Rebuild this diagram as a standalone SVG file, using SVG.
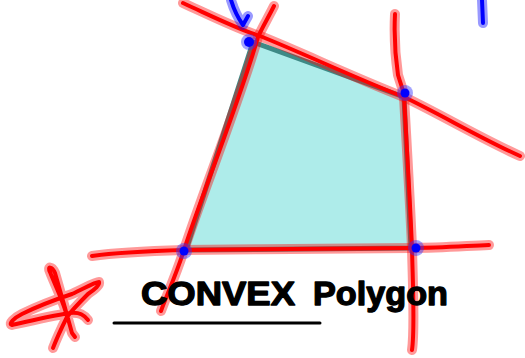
<svg xmlns="http://www.w3.org/2000/svg" width="525" height="358" viewBox="0 0 525 358">
<style>
.halo{fill:none;stroke-linecap:round;stroke-linejoin:round;stroke-width:10;stroke-opacity:0.4}
.core{fill:none;stroke-linecap:round;stroke-linejoin:round;stroke-width:4}
.red{stroke:#ff0000}
.blue{stroke:#0000ff}
.dot{fill:#0000ff}
.doth{fill:#3333ff;fill-opacity:0.45}
.title{font-family:"Liberation Sans",Arial,sans-serif;font-weight:bold;font-size:33px;fill:#000;stroke:#000;stroke-width:1.3;stroke-linejoin:round}
</style>
<defs>
<path id="l1" d="M183,3 C220,20 240,30 260,36 C300,52 360,80 404,97 C440,114 480,138 520,156"/>
<path id="l2" d="M274,6 C268,18 262,28 258,37 C240,100 200,200 184,250 C176,275 168,292 161,311"/>
<path id="l3" d="M395,14 C394,35 395,55 398,75 C402,88 404,92 404,97 C407,150 410,200 412,248 C413,290 415,330 412,350"/>
<path id="l4" d="M92,256 C120,252 150,251 184,250 C260,249 340,249 412,248 C440,248 465,246 489,245"/>
<path id="star" d="M53,348 C58,335 63,325 67,317 C65,305 55,285 50,272 C47,266 52,266 55,273 C60,290 67,315 72,333 L75,337 M88,320 C84,315 80,312 70,313 C50,316 25,322 12,325 C8,324 14,318 22,314 C40,305 60,298 72,294 C85,288 95,282 99,282 C100,285 95,289 88,294 C80,302 72,310 67,317"/>
<path id="b1" d="M231,0 C234,10 238,18 243,25 L248,16"/>
<path id="b2" d="M482,0 L483,23"/>
</defs>
<g id="polygon">
<polygon points="253,42 404,97 411,248 186,250" fill="#aeecea" stroke="#3e8a86" stroke-width="5" stroke-linejoin="round"/>
</g>
<g id="connectors">
<use href="#l1" class="halo red"/><use href="#l1" class="core red"/>
<use href="#l2" class="halo red"/><use href="#l2" class="core red"/>
<use href="#l3" class="halo red"/><use href="#l3" class="core red"/>
<use href="#l4" class="halo red"/><use href="#l4" class="core red"/>
</g>
<g id="vertices">
<circle cx="249" cy="42" r="8" class="doth"/><circle cx="249" cy="42" r="5" class="dot"/>
<circle cx="405" cy="93" r="8" class="doth"/><circle cx="405" cy="93" r="4.5" class="dot"/>
<circle cx="184" cy="251" r="8" class="doth"/><circle cx="184" cy="251" r="4.5" class="dot"/>
<circle cx="416" cy="248" r="8" class="doth"/><circle cx="416" cy="248" r="4.5" class="dot"/>
</g>
<g id="blue-marks">
<use href="#b1" class="halo blue"/><use href="#b1" class="core blue"/>
<use href="#b2" class="halo blue"/><use href="#b2" class="core blue"/>
</g>
<g id="scribble">
<use href="#star" class="halo red"/><use href="#star" class="core red"/>
</g>
<g id="label">
<text class="title" y="305"><tspan x="141" textLength="154" lengthAdjust="spacingAndGlyphs">CONVEX</tspan><tspan x="313" textLength="135" lengthAdjust="spacingAndGlyphs">Polygon</tspan></text>
<line x1="114" y1="323" x2="320" y2="323" stroke="#000" stroke-width="3" stroke-linecap="round"/>
</g>
</svg>
